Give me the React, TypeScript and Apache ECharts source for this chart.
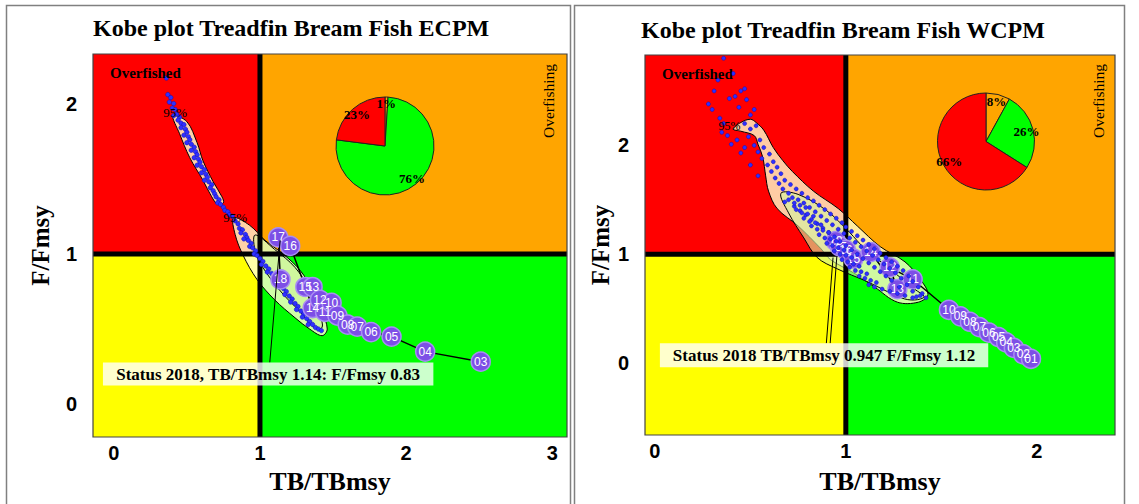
import React, { useEffect, useRef } from "react";
import * as echarts from "echarts";

const SERIF = '"Liberation Serif", "DejaVu Serif", serif';
const SANS = '"Liberation Sans", Arial, sans-serif';
const QUAD_COLORS = ["#FF0000", "#FFA500", "#FFFF00", "#00FF00"];

// ---------------- ECPM (left panel) ----------------
const ecpmTitle = "Kobe plot Treadfin Bream Fish ECPM";
const ecpmXTicks = [0, 1, 2, 3];
const ecpmYTicks = [0, 1, 2];
const ecpmYears = ["03", "04", "05", "06", "07", "08", "09", "10", "11", "12", "13", "14", "15", "16", "17", "18"];
const ecpmTB = [2.51, 2.13, 1.9, 1.76, 1.665, 1.6, 1.53, 1.49, 1.445, 1.41, 1.36, 1.36, 1.31, 1.207, 1.125, 1.14];
const ecpmF = [0.283, 0.35, 0.45, 0.48, 0.516, 0.53, 0.59, 0.675, 0.615, 0.695, 0.78, 0.64, 0.78, 1.053, 1.11, 0.83];
const ecpmPieNames = ["Overfishing", "Sustainable", "Overfished"];
const ecpmPieValues = [1, 76, 23];
const ecpmStatus = "Status 2018, TB/TBmsy 1.14: F/Fmsy 0.83";
const ecpmScatter = [
  [0.36, 2.17], [0.37, 2.06], [0.39, 2.04], [0.38, 2.01], [0.41, 2.0], [0.4, 1.97], [0.42, 1.96], [0.43, 1.93],
  [0.41, 1.92], [0.45, 1.91], [0.44, 1.89], [0.46, 1.87], [0.48, 1.86], [0.46, 1.84], [0.49, 1.83], [0.5, 1.81],
  [0.48, 1.79], [0.51, 1.78], [0.52, 1.76], [0.5, 1.74], [0.53, 1.73], [0.55, 1.71], [0.53, 1.69], [0.56, 1.68],
  [0.57, 1.66], [0.55, 1.64], [0.58, 1.63], [0.59, 1.61], [0.57, 1.59], [0.6, 1.58], [0.62, 1.56], [0.6, 1.54],
  [0.63, 1.53], [0.64, 1.51], [0.62, 1.49], [0.65, 1.48], [0.67, 1.46], [0.66, 1.44], [0.68, 1.42], [0.69, 1.4],
  [0.7, 1.38], [0.72, 1.36], [0.71, 1.34], [0.73, 1.33], [0.75, 1.31], [0.76, 1.29], [0.78, 1.28], [0.79, 1.26],
  [0.81, 1.25], [0.83, 1.22], [0.85, 1.2], [0.86, 1.17], [0.88, 1.16], [0.87, 1.14], [0.9, 1.13], [0.91, 1.11],
  [0.89, 1.1], [0.92, 1.09], [0.94, 1.07], [0.93, 1.05], [0.95, 1.04], [0.97, 1.02], [0.96, 1.0], [0.98, 0.99],
  [1.0, 0.97], [1.02, 0.95], [1.01, 0.93], [1.04, 0.92], [1.06, 0.9], [1.05, 0.88], [1.08, 0.87], [1.1, 0.85],
  [1.09, 0.83], [1.12, 0.82], [1.14, 0.8], [1.13, 0.78], [1.16, 0.77], [1.18, 0.75], [1.17, 0.73], [1.2, 0.72],
  [1.22, 0.7], [1.21, 0.68], [1.24, 0.67], [1.26, 0.65], [1.25, 0.63], [1.28, 0.62], [1.3, 0.6], [1.29, 0.58],
  [1.32, 0.57], [1.34, 0.55], [1.33, 0.53], [1.36, 0.53], [1.38, 0.51], [1.4, 0.5], [1.42, 0.49],
];
const ecpmContours = [
  [[0.405, 1.92], [0.5, 1.88], [0.57, 1.74], [0.61, 1.62], [0.68, 1.48], [0.74, 1.38], [0.75, 1.34], [0.71, 1.33],
   [0.67, 1.38], [0.61, 1.49], [0.52, 1.64], [0.45, 1.8]],
  [[0.82, 1.24], [0.93, 1.19], [1.035, 1.09], [1.17, 0.99], [1.275, 0.89], [1.36, 0.76], [1.425, 0.615], [1.46, 0.5],
   [1.425, 0.456], [1.34, 0.5], [1.24, 0.575], [1.1, 0.695], [0.98, 0.83], [0.885, 0.99], [0.83, 1.13]],
  [[0.967, 1.126], [1.1, 1.03], [1.24, 0.91], [1.34, 0.76], [1.41, 0.595], [1.425, 0.51], [1.37, 0.51], [1.275, 0.615],
   [1.16, 0.73], [1.04, 0.88], [0.97, 1.01]],
];

// ---------------- WCPM (right panel) ----------------
const wcpmTitle = "Kobe plot Treadfin Bream Fish WCPM";
const wcpmXTicks = [0, 1, 2];
const wcpmYTicks = [0, 1, 2];
const wcpmYears = ["01", "02", "03", "04", "05", "06", "07", "08", "09", "10", "11", "12", "13", "14", "15", "16", "17", "18"];
const wcpmTB = [1.97, 1.93, 1.88, 1.84, 1.8, 1.75, 1.7, 1.65, 1.6, 1.54, 1.35, 1.23, 1.27, 1.13, 1.04, 1.0, 0.97, 0.947];
const wcpmF = [0.04, 0.08, 0.14, 0.19, 0.24, 0.28, 0.33, 0.38, 0.43, 0.49, 0.77, 0.88, 0.68, 1.02, 0.96, 1.04, 1.07, 1.12];
const wcpmPieNames = ["Overfishing", "Sustainable", "Overfished"];
const wcpmPieValues = [8, 26, 66];
const wcpmStatus = "Status 2018 TB/TBmsy 0.947 F/Fmsy 1.12";
const wcpmScatter = [
  [0.36, 2.8], [0.41, 2.66], [0.45, 2.5], [0.39, 2.43], [0.3, 2.33], [0.33, 2.6], [0.47, 2.52], [0.42, 2.45],
  [0.48, 2.42], [0.52, 2.33], [0.44, 2.35], [0.28, 2.38], [0.34, 2.25], [0.5, 2.28], [0.36, 2.2], [0.35, 2.12],
  [0.38, 2.09], [0.43, 2.05], [0.4, 2.01], [0.47, 1.98], [0.45, 1.93], [0.5, 1.82], [0.54, 1.72], [0.31, 2.5],
  [0.47, 2.2], [0.5, 2.15], [0.53, 2.18], [0.49, 2.08], [0.55, 2.05], [0.52, 2.0], [0.57, 1.98], [0.54, 1.94],
  [0.6, 1.92], [0.56, 1.88], [0.62, 1.85], [0.59, 1.82], [0.64, 1.8], [0.61, 1.76], [0.66, 1.74], [0.63, 1.7],
  [0.68, 1.68], [0.65, 1.65], [0.71, 1.64], [0.67, 1.6], [0.74, 1.6], [0.7, 1.56], [0.77, 1.56], [0.72, 1.52],
  [0.8, 1.52], [0.75, 1.5], [0.68, 1.48], [0.83, 1.49], [0.78, 1.47], [0.73, 1.44], [0.86, 1.45], [0.81, 1.43],
  [0.76, 1.4], [0.89, 1.41], [0.84, 1.39], [0.79, 1.36], [0.92, 1.37], [0.87, 1.35], [0.82, 1.32], [0.95, 1.33],
  [0.9, 1.31], [0.85, 1.28], [0.98, 1.29], [0.93, 1.27], [0.88, 1.24], [1.0, 1.25], [0.96, 1.23], [0.91, 1.2],
  [1.03, 1.21], [0.99, 1.19], [0.94, 1.16], [1.06, 1.17], [1.02, 1.15], [0.97, 1.12], [1.09, 1.13], [1.05, 1.11],
  [1.0, 1.08], [1.12, 1.09], [1.08, 1.07], [1.03, 1.04], [1.15, 1.05], [1.11, 1.03], [1.06, 1.0], [1.18, 1.01],
  [1.14, 0.99], [1.09, 0.96], [1.21, 0.97], [1.17, 0.95], [1.12, 0.92], [1.24, 0.93], [1.2, 0.91], [1.15, 0.88],
  [1.27, 0.89], [1.23, 0.87], [1.18, 0.84], [1.3, 0.85], [1.26, 0.83], [1.21, 0.8], [1.33, 0.8], [1.29, 0.78],
  [1.24, 0.76], [1.35, 0.75], [1.32, 0.72], [1.28, 0.7], [1.38, 0.7], [1.35, 0.66], [1.4, 0.64], [1.37, 0.61],
  [1.42, 0.6], [0.7, 1.5], [0.73, 1.47], [0.76, 1.45], [0.79, 1.43], [0.74, 1.41], [0.77, 1.38], [0.8, 1.37],
  [0.83, 1.35], [0.78, 1.33], [0.81, 1.3], [0.84, 1.29], [0.87, 1.27], [0.82, 1.26], [0.85, 1.23], [0.88, 1.22],
  [0.91, 1.2], [0.86, 1.18], [0.89, 1.15], [0.92, 1.14], [0.95, 1.12], [0.9, 1.1], [0.93, 1.08], [0.96, 1.06],
  [0.99, 1.04], [0.94, 1.03], [0.97, 1.0], [1.0, 0.99], [1.03, 0.97], [0.98, 0.95], [1.01, 0.93], [1.04, 0.91],
  [1.07, 0.89], [1.02, 0.88], [1.05, 0.85], [1.08, 0.84], [1.11, 0.82], [1.07, 0.8], [1.1, 0.78], [1.13, 0.76],
  [1.16, 0.74], [1.12, 0.72], [1.15, 0.7], [1.19, 0.68], [1.23, 0.66], [1.27, 0.64], [1.31, 0.62], [1.35, 0.6],
  [1.39, 0.62],
];
const wcpmContours = [
  [[0.41, 2.15], [0.45, 2.21], [0.5, 2.24], [0.53, 2.21], [0.57, 2.14], [0.62, 1.98], [0.67, 1.86], [0.72, 1.76],
   [0.83, 1.58], [0.96, 1.42], [1.06, 1.26], [1.18, 1.07], [1.31, 0.93], [1.39, 0.77], [1.43, 0.63], [1.38, 0.56],
   [1.27, 0.56], [1.15, 0.7], [1.04, 0.83], [0.92, 0.95], [0.87, 1.05], [0.75, 1.26], [0.64, 1.42], [0.595, 1.58],
   [0.58, 1.72], [0.565, 1.89], [0.54, 2.01], [0.52, 2.09], [0.45, 2.13]],
  [[0.66, 1.56], [0.75, 1.55], [0.9, 1.4], [1.02, 1.2], [1.1, 1.05], [1.22, 0.88], [1.36, 0.68], [1.41, 0.61],
   [1.36, 0.58], [1.29, 0.6], [1.11, 0.75], [0.95, 0.87], [0.85, 0.97], [0.78, 1.15], [0.7, 1.38]],
];

// ---------------- layout / styling config ----------------
const panels = [
  {
    gi: 0, grid: { left: 93, top: 54, width: 474, height: 383 },
    xMin: -0.142, xMax: 3.1, yMin: -0.218, yMax: 2.33,
    xTicks: ecpmXTicks, yTicks: ecpmYTicks, years: ecpmYears, tb: ecpmTB, f: ecpmF,
    scatter: ecpmScatter, contours: ecpmContours,
    contourFills: ["rgba(255,255,205,0.82)", "rgba(255,255,205,0.82)", "rgba(205,240,150,0.55)"],
    pieNames: ecpmPieNames, pieValues: ecpmPieValues, pieCenter: [385, 146], pieR: 49,
    status: ecpmStatus, statusBox: [-0.074, 2.186, 0.124, 0.277], statusAt: [1.056, 0.2],
    pointers: [[[1.067, 0.277], [1.138, 1.09]]],
    pct: [[0.42, 1.94], [0.83, 1.24]], pctSize: 13,
    dotSize: 4.5, scatterZ: 4,
    yNameGap: 40, xNameGap: 31,
  },
  {
    gi: 1, grid: { left: 645, top: 55, width: 470, height: 380 },
    xMin: -0.052, xMax: 2.41, yMin: -0.66, yMax: 2.83,
    xTicks: wcpmXTicks, yTicks: wcpmYTicks, years: wcpmYears, tb: wcpmTB, f: wcpmF,
    scatter: wcpmScatter, contours: wcpmContours,
    contourFills: ["rgba(255,255,205,0.8)", "rgba(210,245,160,0.6)"],
    pieNames: wcpmPieNames, pieValues: wcpmPieValues, pieCenter: [986, 141.5], pieR: 48.5,
    status: wcpmStatus, statusBox: [0.026, 1.746, -0.037, 0.183], statusAt: [0.886, 0.073],
    pointers: [[[0.898, 0.183], [0.933, 0.97]], [[0.918, 0.183], [0.953, 0.98]]],
    pct: [[0.39, 2.18]], pctSize: 12,
    dotSize: 4, scatterZ: 5.5,
    yNameGap: 32, xNameGap: 33,
  },
];

const pieColors = ["#FFA500", "#00FF00", "#FF0000"];

function buildSeries(p: any) {
  const gi = p.gi;
  const series: any[] = [];
  // quadrants
  series.push({
    type: "custom", xAxisIndex: gi, yAxisIndex: gi, z: 1, silent: true,
    data: [
      [p.xMin, 1, 1, p.yMax, 0],
      [1, p.xMax, 1, p.yMax, 1],
      [p.xMin, 1, p.yMin, 1, 2],
      [1, p.xMax, p.yMin, 1, 3],
    ],
    renderItem: (params: any, api: any) => {
      const a = api.coord([api.value(0), api.value(3)]);
      const b = api.coord([api.value(1), api.value(2)]);
      return {
        type: "rect",
        shape: { x: a[0], y: a[1], width: b[0] - a[0], height: b[1] - a[1] },
        style: { fill: QUAD_COLORS[api.value(4)] },
      };
    },
  });
  // contours
  series.push({
    type: "custom", xAxisIndex: gi, yAxisIndex: gi, z: 2, silent: true,
    data: p.contours.map((_: any, i: number) => [1, 1, i]),
    renderItem: (params: any, api: any) => {
      const poly = p.contours[params.dataIndex];
      return {
        type: "polygon",
        shape: { points: poly.map((pt: number[]) => api.coord(pt)), smooth: 0.35 },
        style: { fill: p.contourFills[params.dataIndex], stroke: "#000", lineWidth: 1 },
      };
    },
  });
  // reference lines
  series.push({
    type: "custom", xAxisIndex: gi, yAxisIndex: gi, z: 3, silent: true,
    data: [[1, 1]],
    renderItem: (params: any, api: any) => {
      const v0 = api.coord([1, p.yMin]);
      const v1 = api.coord([1, p.yMax]);
      const h0 = api.coord([p.xMin, 1]);
      const h1 = api.coord([p.xMax, 1]);
      return {
        type: "group",
        children: [
          { type: "line", shape: { x1: v0[0], y1: v0[1], x2: v1[0], y2: v1[1] }, style: { stroke: "#000", lineWidth: 5 } },
          { type: "line", shape: { x1: h0[0], y1: h0[1], x2: h1[0], y2: h1[1] }, style: { stroke: "#000", lineWidth: 5 } },
        ],
      };
    },
  });
  // scatter
  series.push({
    type: "scatter", xAxisIndex: gi, yAxisIndex: gi, z: p.scatterZ, silent: true,
    symbolSize: p.dotSize, data: p.scatter,
    itemStyle: { color: "#2f2fff", borderColor: "#1010b0", borderWidth: 0.5, opacity: 1 },
  });
  // trajectory (drawn latest-first so earlier years lie on top)
  const order = p.years.map((_: any, i: number) => i).reverse();
  series.push({
    type: "line", xAxisIndex: gi, yAxisIndex: gi, z: 5, silent: true,
    data: order.map((i: number) => [p.tb[i], p.f[i]]),
    symbol: "circle", symbolSize: 19, showSymbol: true, showAllSymbol: true,
    itemStyle: { color: "#7d4fe6", borderColor: "#a88df3", borderWidth: 1.5 },
    lineStyle: { color: "#000", width: 1.5 },
    label: {
      show: true, position: "inside", color: "#fff", fontSize: 12, fontFamily: SANS,
      formatter: (q: any) => p.years[order[q.dataIndex]],
    },
    emphasis: { disabled: true },
  });
  // overlay annotations
  series.push({
    type: "custom", xAxisIndex: gi, yAxisIndex: gi, z: 6, silent: true,
    data: [[1, 1]],
    renderItem: (params: any, api: any) => {
      const ch: any[] = [];
      for (const seg of p.pointers) {
        const a = api.coord(seg[0]);
        const b = api.coord(seg[1]);
        ch.push({ type: "line", shape: { x1: a[0], y1: a[1], x2: b[0], y2: b[1] }, style: { stroke: "#000", lineWidth: 1 } });
      }
      const s = p.statusBox;
      const a = api.coord([s[0], s[3]]);
      const b = api.coord([s[1], s[2]]);
      ch.push({
        type: "rect", shape: { x: a[0], y: a[1], width: b[0] - a[0], height: b[1] - a[1] },
        style: { fill: "rgba(255,255,255,0.8)" },
      });
      const t = api.coord(p.statusAt);
      ch.push({
        type: "text", x: t[0], y: t[1],
        style: { text: p.status, fill: "#000", fontSize: 17, fontWeight: "bold", fontFamily: SERIF, align: "center", verticalAlign: "middle" },
      });
      for (const pc of p.pct) {
        const c = api.coord(pc);
        ch.push({
          type: "text", x: c[0], y: c[1],
          style: { text: "95%", fill: "#000", fontSize: p.pctSize, fontFamily: SERIF, align: "center", verticalAlign: "middle" },
        });
      }
      const tl = api.coord([p.xMin, p.yMax]);
      const br = api.coord([p.xMax, p.yMin]);
      ch.push({
        type: "rect", shape: { x: tl[0], y: tl[1], width: br[0] - tl[0], height: br[1] - tl[1] },
        style: { fill: "none", stroke: "#444", lineWidth: 1.2 },
      });
      return { type: "group", children: ch };
    },
  });
  // pie
  const pieData = p.pieNames.map((n: string, i: number) => ({ name: n, value: p.pieValues[i], itemStyle: { color: pieColors[i] } }));
  series.push({
    type: "pie", center: p.pieCenter, radius: p.pieR, startAngle: 90, clockwise: true, z: 7, silent: true,
    label: { show: false }, labelLine: { show: false }, animation: false,
    itemStyle: { borderColor: "#222", borderWidth: 1 },
    data: pieData,
  });
  series.push({
    type: "pie", center: p.pieCenter, radius: [p.pieR * 0.6, p.pieR], startAngle: 90, clockwise: true, z: 8, silent: true,
    labelLine: { show: false }, animation: false,
    itemStyle: { color: "rgba(0,0,0,0)", borderWidth: 0 },
    label: { show: true, position: "inside", formatter: "{c}%", color: "#000", fontSize: 13, fontWeight: "bold", fontFamily: SERIF },
    data: p.pieNames.map((n: string, i: number) => ({ name: n, value: p.pieValues[i] })),
  });
  return series;
}

function axisSet(p: any) {
  const tickLabel = { fontSize: 20, fontWeight: "bold", fontFamily: SANS, color: "#000" };
  const x = {
    type: "value", gridIndex: p.gi, min: p.xMin, max: p.xMax,
    splitLine: { show: false }, axisLine: { show: false },
    axisTick: { show: true, customValues: p.xTicks, length: 5, lineStyle: { color: "#999" } },
    axisLabel: { ...tickLabel, customValues: p.xTicks, margin: 6 },
    name: "TB/TBmsy", nameLocation: "middle", nameGap: p.xNameGap,
    nameTextStyle: { fontFamily: SERIF, fontWeight: "bold", fontSize: 26, color: "#000" },
  };
  const y = {
    type: "value", gridIndex: p.gi, min: p.yMin, max: p.yMax,
    splitLine: { show: false }, axisLine: { show: false },
    axisTick: { show: true, customValues: p.yTicks, length: 5, lineStyle: { color: "#999" } },
    axisLabel: { ...tickLabel, customValues: p.yTicks, margin: 16 },
    name: "F/Fmsy", nameLocation: "middle", nameGap: p.yNameGap,
    nameTextStyle: { fontFamily: SERIF, fontWeight: "bold", fontSize: 25, color: "#000" },
  };
  return { x, y };
}

export default function App() {
  const ref = useRef<HTMLDivElement>(null);
  useEffect(() => {
    if (!ref.current) return;
    const chart = echarts.init(ref.current, null, { renderer: "svg" });
    const axes = panels.map(axisSet);
    const option: any = {
      animation: false,
      backgroundColor: "#fff",
      title: [
        { text: ecpmTitle, left: 88, top: 11, textStyle: { fontFamily: SERIF, fontWeight: "bold", fontSize: 24, color: "#000" } },
        { text: wcpmTitle, left: 636, top: 13, textStyle: { fontFamily: SERIF, fontWeight: "bold", fontSize: 24, color: "#000" } },
      ],
      grid: panels.map((p) => ({ ...p.grid, containLabel: false })),
      xAxis: axes.map((a) => a.x),
      yAxis: axes.map((a) => a.y),
      series: panels.flatMap(buildSeries),
      graphic: [
        { type: "rect", z: 100, silent: true, shape: { x: 6.5, y: 5.5, width: 564, height: 520 }, style: { fill: "none", stroke: "#808080", lineWidth: 1.5 } },
        { type: "rect", z: 100, silent: true, shape: { x: 574.5, y: 5.5, width: 550, height: 520 }, style: { fill: "none", stroke: "#808080", lineWidth: 1.5 } },
        { type: "text", z: 100, silent: true, x: 110, y: 73, style: { text: "Overfished", fill: "#000", fontSize: 15, fontWeight: "bold", fontFamily: SERIF, align: "left", verticalAlign: "middle" } },
        { type: "text", z: 100, silent: true, x: 662, y: 74, style: { text: "Overfished", fill: "#000", fontSize: 15, fontWeight: "bold", fontFamily: SERIF, align: "left", verticalAlign: "middle" } },
        { type: "text", z: 100, silent: true, x: 548.5, y: 101, rotation: Math.PI / 2, style: { text: "Overfishing", fill: "#000", fontSize: 15.5, fontFamily: SERIF, align: "center", verticalAlign: "middle" } },
        { type: "text", z: 100, silent: true, x: 1098, y: 101, rotation: Math.PI / 2, style: { text: "Overfishing", fill: "#000", fontSize: 15.5, fontFamily: SERIF, align: "center", verticalAlign: "middle" } },
      ],
    };
    chart.setOption(option);
    return () => chart.dispose();
  }, []);
  return (
    <div
      ref={ref}
      style={{ position: "fixed", left: 0, top: 0, width: 1139, height: 504, background: "#fff" }}
    />
  );
}
